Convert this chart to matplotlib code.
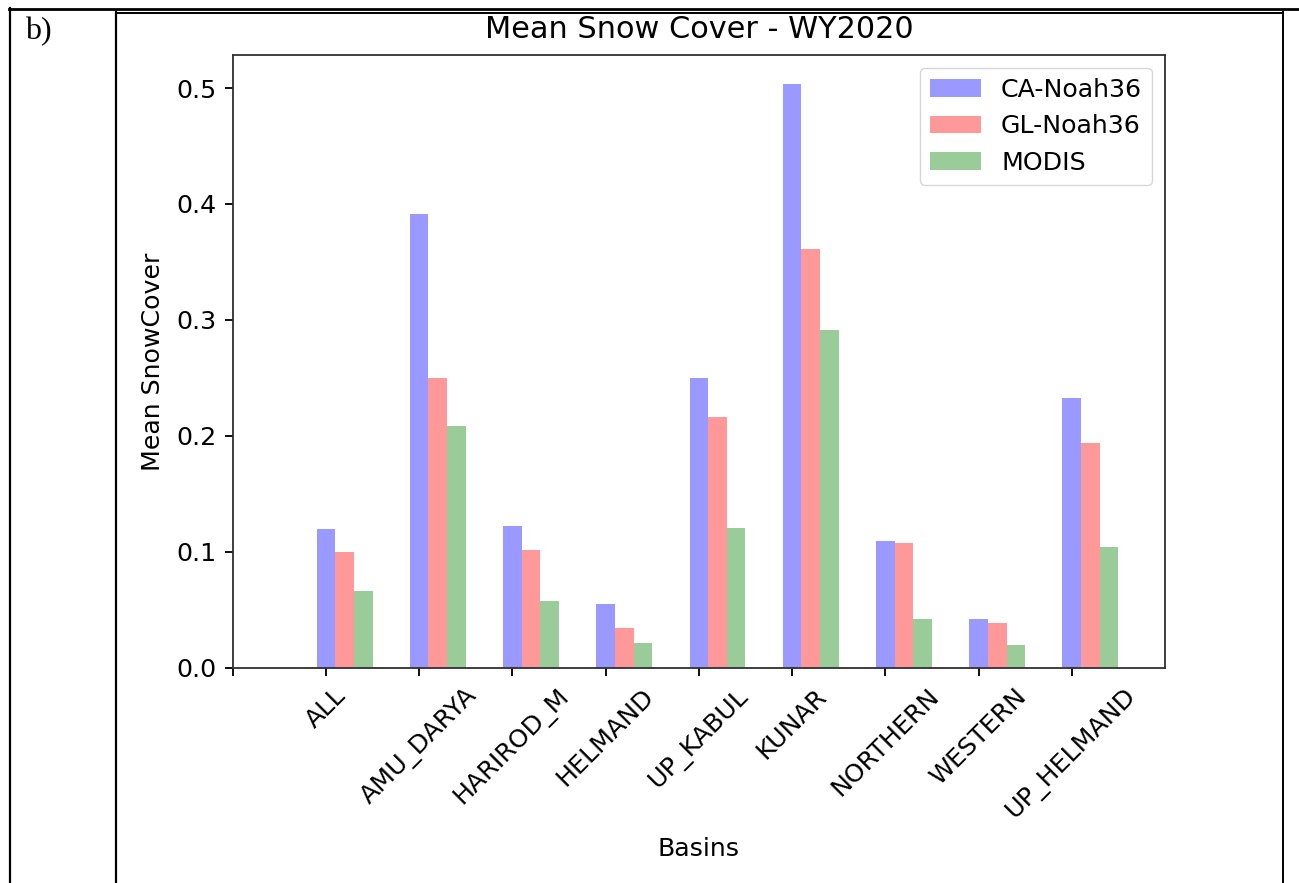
import numpy as np
import matplotlib.pyplot as plt
from matplotlib.lines import Line2D

# Basins and mean snow cover values (WY2020)
BASINS = ['ALL', 'AMU_DARYA', 'HARIROD_M', 'HELMAND', 'UP_KABUL',
          'KUNAR', 'NORTHERN', 'WESTERN', 'UP_HELMAND']
CA_NOAH36 = [0.1195, 0.3913, 0.1221, 0.0553, 0.2498, 0.5033, 0.1094, 0.0418, 0.2328]
GL_NOAH36 = [0.1000, 0.2500, 0.1014, 0.0346, 0.2161, 0.3611, 0.1074, 0.0389, 0.1937]
MODIS = [0.0660, 0.2086, 0.0574, 0.0211, 0.1204, 0.2909, 0.0418, 0.0197, 0.1040]

W, H = 1299, 883
S = 1.65   # scale of the pasted figure for lines
SF = 1.82  # scale for fonts

fig = plt.figure(figsize=(W / 100, H / 100), dpi=100)

def px(x, y):
    return x / W, 1 - y / H

# table / picture borders
def hline(x0, x1, y, lw):
    a, b = px(x0, y)
    c, _ = px(x1, y)
    fig.add_artist(Line2D([a, c], [b, b], color='black', lw=lw, transform=fig.transFigure))

def vline(x, y0, y1, lw):
    a, b = px(x, y0)
    _, d = px(x, y1)
    fig.add_artist(Line2D([a, a], [b, d], color='black', lw=lw, transform=fig.transFigure))

hline(9, 1299, 8.5, 2.0)
vline(10, 8, H, 1.6)
vline(116, 12, H, 1.6)
hline(116, 1283, 12.5, 1.4)
vline(1282.5, 12, H, 1.4)

fig.text(25 / W, 1 - 32 / H, 'b)', family='Liberation Serif', fontsize=23, va='center', ha='left')

# axes
left, bottom = px(232.7, 667.8)
right, top = px(1165, 55)
ax = fig.add_axes([left, bottom, right - left, top - bottom])

x = np.arange(1, len(BASINS) + 1)
width = 0.2
ax.bar(x, CA_NOAH36, width, color='b', alpha=0.4, label='CA-Noah36')
ax.bar(x + width, GL_NOAH36, width, color='r', alpha=0.4, label='GL-Noah36')
ax.bar(x + 2 * width, MODIS, width, color='g', alpha=0.4, label='MODIS')

fs = 10 * SF
ax.set_xlim(0, 10)
ax.set_ylim(0, max(CA_NOAH36) * 1.05)
ax.set_xticks(np.arange(0, len(BASINS) + 1))
ax.set_xticklabels([''] + BASINS, rotation=45, fontsize=fs)
ax.set_yticks([0.0, 0.1, 0.2, 0.3, 0.4, 0.5])
ax.set_yticklabels(['0.0', '0.1', '0.2', '0.3', '0.4', '0.5'], fontsize=fs)
ax.tick_params(length=3.5 * S, width=0.8 * S, pad=3.5 * S)
for sp in ax.spines.values():
    sp.set_linewidth(0.8 * S)
    sp.set_color('#333333')

ax.set_title('Mean Snow Cover - WY2020', fontsize=12 * SF, pad=12)
ax.set_ylabel('Mean SnowCover', fontsize=fs, labelpad=5 * S)
ax.set_xlabel('Basins', fontsize=fs, labelpad=6 * S)
ax.legend(fontsize=fs, loc='upper right')

fig.savefig('out.png', dpi=100)
